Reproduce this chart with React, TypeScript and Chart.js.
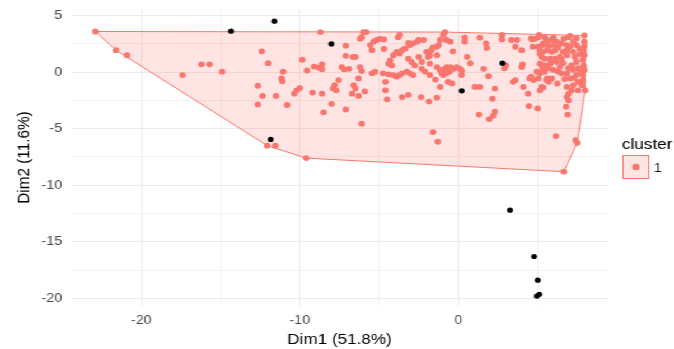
import { useEffect, useRef } from "react";
import { Chart, registerables } from "chart.js";

Chart.register(...registerables);

// Cluster 1 members: [Dim1, Dim2]
const clusterPoints: [number, number][] = [
  [-22.9, 3.6], [-21.6, 1.95], [-20.9, 1.5], [-17.4, -0.25], [-16.2, 0.7], [-15.7, 0.7], [-14.9, 0.05],
  [-12.4, 1.85], [-12.0, 0.8], [-11.05, 0.05], [-11.15, -0.55], [-11.1, -0.8], [-12.65, -1.2], [-12.35, -2.1],
  [-11.5, -2.1], [-12.65, -2.85], [-10.8, -2.9],
  [-12.05, -6.5], [-11.55, -6.5], [-9.6, -7.6],
  [-9.85, 1.1], [-9.55, 0.15], [-9.1, 0.5], [-8.8, 0.4], [-8.6, 0.7], [-8.6, 0.25],
  [-10.35, -1.9], [-10.2, -1.6], [-10.0, -1.4], [-9.2, -1.8], [-8.6, -1.9],
  [-8.7, 3.55], [-8.5, -3.55], [-8.0, -2.8],
  [-7.55, -0.7], [-7.8, -1.15], [-7.9, -1.45], [-7.7, -1.6],
  [-7.1, 2.35], [-7.1, 1.45], [-6.65, 1.35], [-6.5, 1.35],
  [-7.35, 0.45], [-7.2, 0.25], [-6.9, 0.3], [-6.2, 0.45], [-6.1, 0.1],
  [-6.3, -0.55], [-6.6, -1.15], [-6.5, -1.45], [-6.7, -1.9], [-6.3, -2.1], [-5.9, -1.7],
  [-7.1, -3.3], [-6.1, -4.55],
  [-6.0, 3.55], [-5.8, 3.55], [-6.1, 3.1], [-6.2, 2.95], [-5.35, 2.7], [-5.15, 2.85], [-4.95, 2.95],
  [-4.7, 2.9], [-5.55, 2.4], [-5.45, 1.95], [-4.7, 2.05],
  [-5.45, -0.1], [-5.25, 0.05], [-4.75, -0.1], [-4.4, -0.2], [-4.1, -0.25], [-3.9, -0.4], [-3.7, -0.25],
  [-4.6, -0.85], [-4.6, -1.6], [-4.5, -2.4],
  [-4.4, 0.75], [-4.2, 0.6], [-4.3, 1.05], [-4.1, 1.5], [-3.9, 1.8], [-3.7, 1.65], [-3.55, 1.95],
  [-3.35, 2.1], [-3.05, 2.4], [-2.85, 2.55], [-2.6, 2.7],
  [-3.15, 1.2], [-2.95, 0.9], [-2.75, 0.6], [-2.3, 0.9], [-2.5, 1.35], [-1.9, 1.35], [-1.8, 0.75],
  [-2.3, 0.3], [-2.1, 0.05], [-1.8, -0.25],
  [-3.8, 3.1], [-3.7, 3.3], [-3.15, 2.6], [-2.5, 2.85], [-2.2, 2.85], [-2.0, 1.8], [-1.8, 1.5],
  [-1.7, 1.95], [-1.35, 2.25], [-1.6, 2.2], [-1.25, 2.4], [-1.15, 2.85], [-0.95, 3.3], [-0.85, 3.55],
  [-0.75, 2.85], [-0.5, 2.7], [-0.35, 1.85], [-1.35, 1.5],
  [-1.35, 0.45], [-1.15, 0.2], [-1.05, -0.1], [-0.85, 0.3], [-0.75, 0.45], [-0.5, 0.45], [-0.3, 0.3],
  [-0.1, 0.45], [0.2, 0.15], [-0.95, -0.25], [-0.65, -0.85], [-0.4, -1.0], [-1.15, -1.3], [-1.45, -0.65],
  [-0.75, -0.1], [-0.55, 0.05],
  [-3.55, -0.1], [-3.25, 0.05], [-3.05, -0.1], [-2.85, -0.25],
  [-3.55, -2.2], [-3.15, -2.0], [-2.35, -2.2], [-1.85, -2.6], [-1.35, -2.25],
  [-1.6, -5.3], [-1.3, -6.15],
  [0.4, 3.05], [0.4, 2.7], [1.35, 3.05], [1.75, 2.55], [1.8, 2.15], [2.75, 2.9], [2.75, 3.3], [3.35, 2.85],
  [3.7, 2.85], [3.6, 2.25], [4.0, 1.95], [4.65, 2.9], [4.85, 2.95], [5.1, 3.3], [4.7, 2.25], [5.55, 2.85],
  [7.05, 3.2],
  [0.55, 1.35], [0.75, 0.8], [0.1, 0.3], [0.2, -0.25], [1.6, 0.3], [1.9, -0.35], [2.9, 0.35], [3.0, 0.6],
  [4.0, 0.45], [4.05, 0.7], [3.6, -0.7], [3.45, -0.85], [4.5, -0.55], [1.05, -1.3], [1.35, -1.3],
  [2.3, -1.45], [4.1, -1.3], [4.4, -1.9], [5.15, -1.6],
  [2.15, -2.35], [1.3, -3.75], [1.95, -4.15], [2.2, -3.85], [2.3, -3.5], [4.45, -3.0], [5.0, -3.2],
  [6.85, -2.2], [6.95, -2.5], [6.8, -3.05], [6.9, -3.75], [6.15, -5.65], [7.4, -6.0], [7.5, -6.25],
  [6.65, -8.8],
  [4.6, -0.4], [4.75, -0.7], [5.35, -1.35], [5.55, -0.7],
  [5.15, 1.95], [5.35, 1.8], [5.6, 1.95], [5.9, 1.8], [6.1, 1.95], [5.25, 1.35], [5.45, 1.2], [5.8, 1.2],
  [6.1, 1.2], [6.4, 1.35], [5.15, 0.75], [5.45, 0.6], [5.8, 0.75], [6.2, 0.9], [6.5, 1.2], [6.85, 1.5],
  [6.85, 1.95], [6.85, 2.4], [7.05, 2.25], [7.25, 1.8], [7.35, 1.35], [7.45, 0.9], [7.15, 0.6],
  [6.95, 0.35], [6.4, 0.45], [6.0, 0.2], [5.45, 0.05], [5.15, -0.1], [5.05, -0.55], [5.6, -0.55],
  [5.9, -0.55], [6.5, -0.1], [6.85, -0.1], [7.25, 0.2], [7.55, 0.35], [7.45, -0.25], [7.05, -0.55],
  [7.55, -0.85], [7.25, -1.15], [6.85, -1.3], [5.25, -1.3], [5.7, -0.85], [6.95, -1.9], [7.55, -1.6],
  [8.0, -1.6], [6.0, 1.05], [4.95, 0.05],
  [7.45, 3.0], [7.25, 2.7], [7.45, 2.4], [4.6, 3.0], [5.05, 3.1], [5.45, 3.1], [5.35, 2.55], [5.05, 2.25],
  [5.15, 1.65], [6.5, 2.55], [6.95, 3.1], [6.05, 2.4], [5.7, 2.3],
  [5.3, 2.4], [5.6, 2.6], [5.9, 2.85], [6.2, 2.7], [6.3, 2.2], [6.6, 1.8], [6.6, 0.8], [6.3, 0.05],
  [5.7, 0.35], [5.3, 0.35], [6.7, -0.6], [7.15, -1.6], [6.25, -1.0], [7.3, -0.5], [7.65, 1.6],
  [7.65, 2.1], [7.7, 0.0], [6.65, 2.95], [6.0, 3.05],
  [7.95, 3.25], [7.95, 2.7], [7.95, 2.3], [7.9, 1.9], [7.95, 1.5], [7.85, 1.1], [7.9, 0.6], [7.95, 0.2],
  [7.85, -0.25], [7.85, -0.7], [7.8, -1.15],
];

// Observations drawn in black on top of the cluster
const outlierPoints: [number, number][] = [
  [-14.34, 3.63], [-11.61, 4.51], [-8.01, 2.5], [-11.84, -5.95], [0.21, -1.65], [2.78, 0.8],
  [3.26, -12.2], [4.78, -16.3], [5.01, -18.4], [4.95, -19.8], [5.11, -19.65],
];

const xTickLabels = [-20, -10, 0];
const yTickLabels = [5, 0, -5, -10, -15, -20];
const clusterNames = ["1"];

const CLUSTER_RED = "#F8766D";
const CLUSTER_FILL = "rgba(248,118,109,0.2)";
const FONT = "'Liberation Sans', Arial, sans-serif";

// Canvas drawn narrower and widened with a horizontal scale
const W = 602;
const H = 349;
const SX = 674 / W;

function convexHull(pts: [number, number][]): [number, number][] {
  const p = [...pts].sort((a, b) => a[0] - b[0] || a[1] - b[1]);
  const cross = (o: number[], a: number[], b: number[]) =>
    (a[0] - o[0]) * (b[1] - o[1]) - (a[1] - o[1]) * (b[0] - o[0]);
  const lower: [number, number][] = [];
  for (const q of p) {
    while (lower.length >= 2 && cross(lower[lower.length - 2], lower[lower.length - 1], q) <= 0) lower.pop();
    lower.push(q);
  }
  const upper: [number, number][] = [];
  for (let i = p.length - 1; i >= 0; i--) {
    const q = p[i];
    while (upper.length >= 2 && cross(upper[upper.length - 2], upper[upper.length - 1], q) <= 0) upper.pop();
    upper.push(q);
  }
  upper.pop();
  lower.pop();
  return lower.concat(upper);
}

const hullPlugin = {
  id: "clusterHull",
  beforeDatasetsDraw(chart: any) {
    const { ctx, scales, chartArea } = chart;
    const hull = convexHull(clusterPoints);
    ctx.save();
    ctx.beginPath();
    ctx.rect(chartArea.left, chartArea.top, chartArea.right - chartArea.left, chartArea.bottom - chartArea.top);
    ctx.clip();
    ctx.beginPath();
    hull.forEach(([a, b], i) => {
      const px = scales.x.getPixelForValue(a);
      const py = scales.y.getPixelForValue(b);
      if (i === 0) ctx.moveTo(px, py);
      else ctx.lineTo(px, py);
    });
    ctx.closePath();
    ctx.fillStyle = CLUSTER_FILL;
    ctx.fill();
    ctx.strokeStyle = CLUSTER_RED;
    ctx.lineWidth = 1;
    ctx.stroke();
    ctx.restore();
  },
};

const legendPlugin = {
  id: "clusterLegend",
  afterDraw(chart: any) {
    const { ctx } = chart;
    ctx.save();
    ctx.textBaseline = "middle";
    ctx.textAlign = "left";
    ctx.fillStyle = "#000000";
    ctx.font = `15.3px ${FONT}`;
    ctx.fillText("cluster", 555.5, 145);
    clusterNames.forEach((name, i) => {
      const top = 155 + i * 24;
      ctx.fillStyle = CLUSTER_FILL;
      ctx.fillRect(556.5, top + 0.5, 23, 23);
      ctx.strokeStyle = CLUSTER_RED;
      ctx.lineWidth = 1;
      ctx.strokeRect(556.5, top + 0.5, 23, 23);
      ctx.beginPath();
      ctx.arc(568, top + 12, 3.3, 0, Math.PI * 2);
      ctx.fillStyle = CLUSTER_RED;
      ctx.fill();
      ctx.fillStyle = "#1a1a1a";
      ctx.font = `12.8px ${FONT}`;
      ctx.fillText(name, 584, top + 13);
    });
    ctx.restore();
  },
};

const isLabelled = (v: number, labels: number[]) => labels.some((l) => Math.abs(l - v) < 1e-6);

export default function App() {
  const canvasRef = useRef<HTMLCanvasElement>(null);

  useEffect(() => {
    const canvas = canvasRef.current;
    if (!canvas) return;
    Chart.defaults.font.family = FONT;

    const chart = new Chart(canvas, {
      type: "scatter",
      data: {
        datasets: [
          {
            label: "outliers",
            data: outlierPoints.map(([x, y]) => ({ x, y })),
            backgroundColor: "#000000",
            borderWidth: 0,
            pointRadius: 2.6,
            pointHoverRadius: 2.6,
          },
          {
            label: "cluster 1",
            data: clusterPoints.map(([x, y]) => ({ x, y })),
            backgroundColor: CLUSTER_RED,
            borderWidth: 0,
            pointRadius: 2.9,
            pointHoverRadius: 2.9,
          },
        ],
      },
      options: {
        animation: false,
        responsive: false,
        devicePixelRatio: 1,
        events: [],
        layout: { padding: { top: 9, right: 58.1, bottom: 0, left: 0 } },
        plugins: { legend: { display: false }, tooltip: { enabled: false } },
        scales: {
          x: {
            type: "linear",
            position: "bottom",
            min: -24.5,
            max: 9.5,
            afterFit: (s: any) => {
              s.height = 43;
              s.paddingLeft = 0;
              s.paddingRight = 0;
            },
            border: { display: false },
            grid: {
              drawTicks: false,
              color: (c: any) => (isLabelled(c.tick?.value, [-20, -10, 0]) ? "#EBEBEB" : "#F1F1F1"),
              lineWidth: (c: any) => (isLabelled(c.tick?.value, [-20, -10, 0]) ? 1.1 : 0.9),
            },
            ticks: {
              stepSize: 5,
              includeBounds: false,
              autoSkip: false,
              maxRotation: 0,
              padding: 7,
              color: "#4D4D4D",
              font: { size: 12.8 },
              callback: (v: any) => (isLabelled(Number(v), xTickLabels) ? String(Math.round(Number(v))) : ""),
            },
            title: {
              display: true,
              text: "Dim1 (51.8%)",
              color: "#000000",
              font: { size: 15.3 },
              padding: { top: 0, bottom: 0 },
            },
          },
          y: {
            type: "linear",
            min: -20.68,
            max: 5.59,
            afterFit: (s: any) => {
              s.width = 62.5;
              s.paddingTop = 0;
              s.paddingBottom = 0;
            },
            border: { display: false },
            grid: {
              drawTicks: false,
              color: (c: any) => (isLabelled(c.tick?.value, yTickLabels) ? "#EBEBEB" : "#F1F1F1"),
              lineWidth: (c: any) => (isLabelled(c.tick?.value, yTickLabels) ? 1.1 : 0.9),
            },
            ticks: {
              stepSize: 2.5,
              includeBounds: false,
              autoSkip: false,
              padding: 7,
              color: "#4D4D4D",
              font: { size: 12.8 },
              callback: (v: any) => (isLabelled(Number(v), yTickLabels) ? String(Math.round(Number(v))) : ""),
            },
            title: {
              display: true,
              text: "Dim2 (11.6%)",
              color: "#000000",
              font: { size: 15.3 },
              padding: { top: 12.7, bottom: 0 },
            },
          },
        },
      },
      plugins: [hullPlugin, legendPlugin],
    } as any);

    return () => chart.destroy();
  }, []);

  return (
    <div
      style={{
        position: "fixed",
        left: 0,
        top: 0,
        width: W,
        height: H,
        background: "#ffffff",
        transform: `scaleX(${SX})`,
        transformOrigin: "0 0",
      }}
    >
      <canvas ref={canvasRef} width={W} height={H} style={{ display: "block", width: W, height: H }} />
    </div>
  );
}
